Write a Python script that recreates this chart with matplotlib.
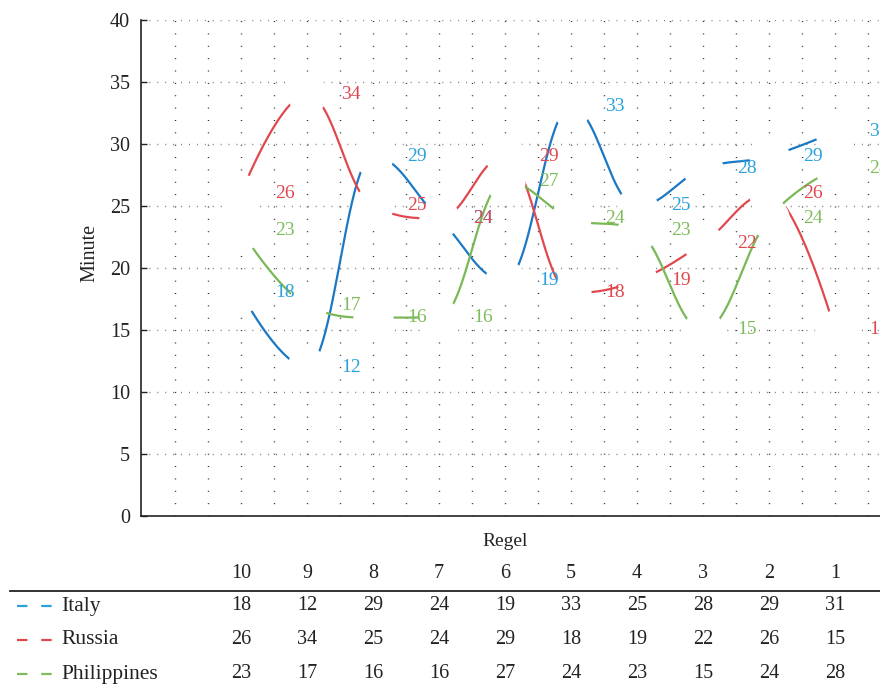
import numpy as np
import matplotlib
matplotlib.use("Agg")
import matplotlib.pyplot as plt
from matplotlib.lines import Line2D
import matplotlib.transforms as mtransforms

plt.rcParams['font.family'] = ['Liberation Serif', 'DejaVu Serif']

# Data
categories = ["10", "9", "8", "7", "6", "5", "4", "3", "2", "1"]
italy = [18, 12, 29, 24, 19, 33, 25, 28, 29, 31]
russia = [26, 34, 25, 24, 29, 18, 19, 22, 26, 15]
philippines = [23, 17, 16, 16, 27, 24, 23, 15, 24, 28]
series_names = ["Italy", "Russia", "Philippines"]
line_colors = ["#1b78c4", "#e0484e", "#79b855"]
label_colors = ["#2ba2dc", "#e0474f", "#7fbd5c"]


def spline_path(xs, ys, smoothing=1.5, n=80):
    # bezier spline with overshoot clamping at extremes
    xs = [float(v) for v in xs]
    ys = [float(v) for v in ys]
    denom = smoothing + 1
    m = len(xs)
    lc = [(xs[i], ys[i]) for i in range(m)]
    rc = [(xs[i], ys[i]) for i in range(m)]
    for i in range(1, m - 1):
        px, py = xs[i], ys[i]
        lx, ly = (smoothing * px + xs[i - 1]) / denom, (smoothing * py + ys[i - 1]) / denom
        rx, ry = (smoothing * px + xs[i + 1]) / denom, (smoothing * py + ys[i + 1]) / denom
        corr = (ry - ly) * (rx - px) / (rx - lx) + py - ry
        ly += corr
        ry += corr
        if ly > ys[i - 1] and ly > py:
            ly = max(ys[i - 1], py)
            ry = 2 * py - ly
        elif ly < ys[i - 1] and ly < py:
            ly = min(ys[i - 1], py)
            ry = 2 * py - ly
        if ry > ys[i + 1] and ry > py:
            ry = max(ys[i + 1], py)
            ly = 2 * py - ry
        elif ry < ys[i + 1] and ry < py:
            ry = min(ys[i + 1], py)
            ly = 2 * py - ry
        lc[i] = (lx, ly)
        rc[i] = (rx, ry)
    cx, cy = [], []
    u = np.linspace(0, 1, n)
    for i in range(m - 1):
        p0 = (xs[i], ys[i])
        p1 = rc[i]
        p2 = lc[i + 1]
        p3 = (xs[i + 1], ys[i + 1])
        b0 = (1 - u) ** 3
        b1 = 3 * (1 - u) ** 2 * u
        b2 = 3 * (1 - u) * u ** 2
        b3 = u ** 3
        cx.extend(b0 * p0[0] + b1 * p1[0] + b2 * p2[0] + b3 * p3[0])
        cy.extend(b0 * p0[1] + b1 * p1[1] + b2 * p2[1] + b3 * p3[1])
    return np.array(cx), np.array(cy)


fig = plt.figure(figsize=(8.8, 6.89), dpi=100)
W, H = 880, 689
ax_left, ax_right, ax_top, ax_bottom = 141, 935, 20, 516
ax = fig.add_axes([ax_left / W, 1 - ax_bottom / H, (ax_right - ax_left) / W, (ax_bottom - ax_top) / H])

x = np.arange(len(categories))
ax.set_xlim(-1.515, 9 + 1.515)
ax.set_ylim(0, 40)

# grid
for gx in np.arange(-1, 10.01, 0.5):
    ax.add_line(Line2D([gx, gx], [0, 40], color="#222222", lw=1.0, dashes=(0.7, 8.2), zorder=0))
for gy in range(5, 41, 5):
    ax.add_line(Line2D([-1.515, 10.515], [gy, gy], color="#777777", lw=1.0, dashes=(0.7, 5.0), zorder=0))

all_series = [italy, russia, philippines]
z = 2
for vals, lc in zip(all_series, line_colors):
    cx, cy = spline_path(x, vals)
    ax.plot(cx, cy, color=lc, lw=1.6, zorder=z, solid_capstyle="butt")
    ax.plot(x, vals, linestyle="none", marker="o", markersize=29,
            markerfacecolor="white", markeredgewidth=0, zorder=z + 0.5, clip_on=False)
    z += 1

for vals, tc in zip(all_series, label_colors):
    for xi, v in zip(x, vals):
        ax.text(xi + 0.67, v, str(v), color=tc, fontsize=14, ha="center", va="center",
                zorder=10, clip_on=False)

for side in ["top", "right"]:
    ax.spines[side].set_visible(False)
for side in ["left", "bottom"]:
    ax.spines[side].set_linewidth(1.2)
    ax.spines[side].set_color("#222222")

ax.set_yticks(range(0, 41, 5))
ax.set_xticks([])
ax.tick_params(axis="y", direction="in", length=4, width=1, labelsize=14.5, pad=8, colors="#222222")
ax.set_ylabel("Minute", fontsize=14.5, color="#222222")
ax.yaxis.set_label_coords(-(141 - 99) / (ax_right - ax_left), 0.53)

# data table below
trans = mtransforms.blended_transform_factory(ax.transData, fig.transFigure)
fig.text(505 / W, 1 - 542 / H, "Regel", fontsize=14, ha="center", va="center", color="#222222")
for xi, c in zip(x, categories):
    ax.text(xi, 1 - 573 / H, c, transform=trans, fontsize=14.5, ha="center", va="center",
            color="#222222", clip_on=False)
fig.add_artist(Line2D([10 / W, 1.0], [1 - 591 / H, 1 - 591 / H], color="#222222", lw=1.3,
                      transform=fig.transFigure))

row_y = [606, 640, 674]
for name, vals, lc, ry in zip(series_names, all_series, label_colors, row_y):
    yf = 1 - ry / H
    fig.add_artist(Line2D([17 / W, 53 / W], [yf, yf], color=lc, lw=1.6, dashes=(4.7, 6.2),
                          transform=fig.transFigure))
    fig.text(61 / W, yf, name, fontsize=15.5, ha="left", va="center", color="#222222")
    for xi, v in zip(x, vals):
        ax.text(xi, yf, str(v), transform=trans, fontsize=14.5, ha="center", va="center",
                color="#222222", clip_on=False)

fig.savefig("out.png", dpi=100)
